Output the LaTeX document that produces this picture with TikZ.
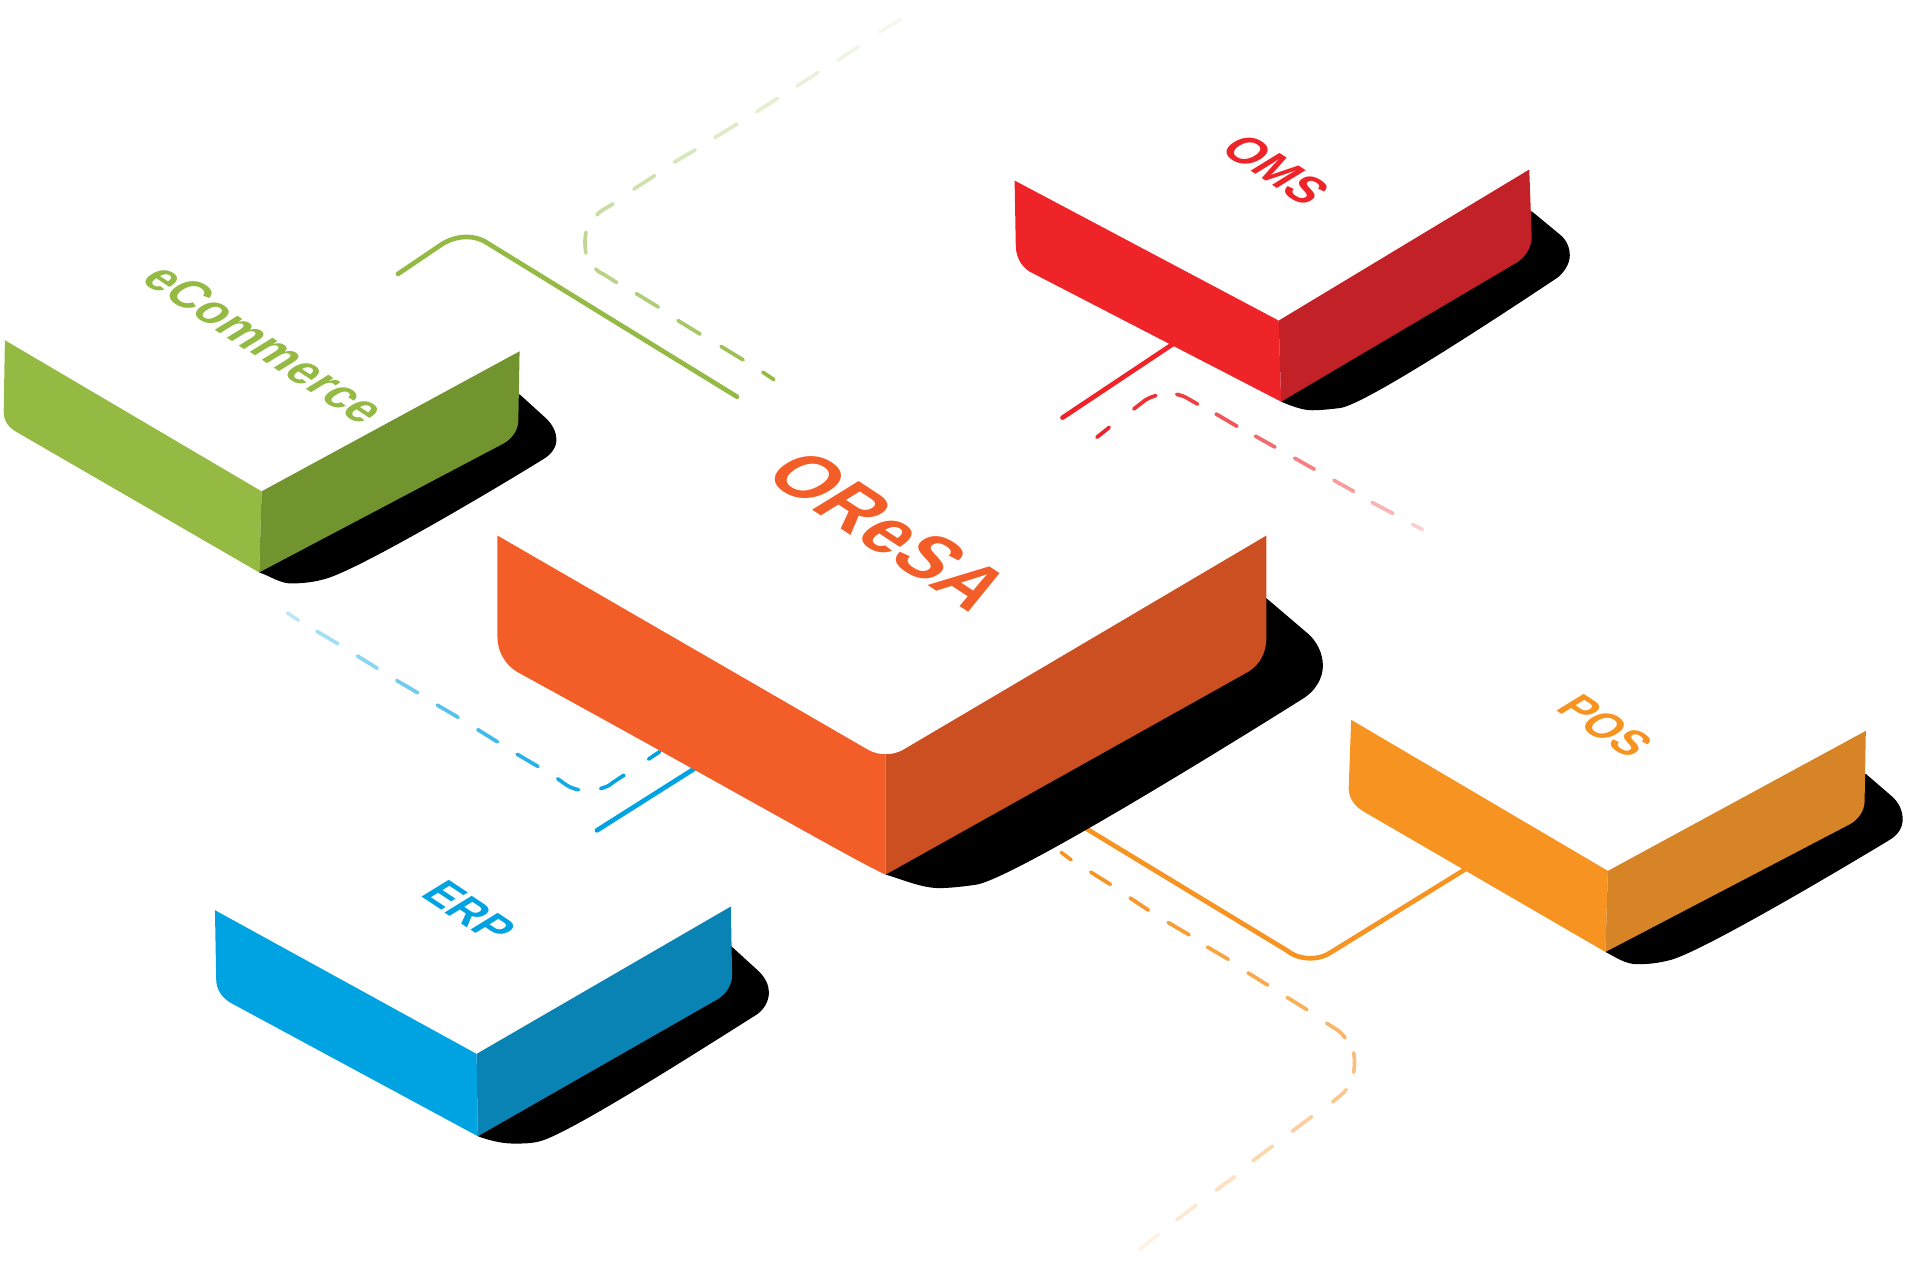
\documentclass[tikz,border=0pt]{standalone}
\usepackage{fontspec}
\newfontfamily\labfont{Liberation Sans}
\definecolor{gA}{HTML}{94BA44}\definecolor{gB}{HTML}{72942E}
\definecolor{oA}{HTML}{F35D27}\definecolor{oB}{HTML}{CC4F22}
\definecolor{rA}{HTML}{EE2429}\definecolor{rB}{HTML}{C12127}
\definecolor{yA}{HTML}{F79421}\definecolor{yB}{HTML}{D78426}
\definecolor{bA}{HTML}{00A3E2}\definecolor{bB}{HTML}{0983B4}
\tikzset{
 solidline/.style={line width=3.8pt,line cap=round},
 dashline/.style={line width=3pt,line cap=round},
 isoframe/.style={cm={.85,-.56,.95,.585,(0,0)}},
 isolabel/.style={transform shape,inner sep=0pt,font=\labfont\bfseries\fontsize{#1}{#1}\selectfont},
}
\begin{document}
\begin{tikzpicture}[x=1pt,y=-1pt]
\useasboundingbox (0,0) rectangle (1568,1037);
% solid connectors
\coordinate (gs) at (324,223); \coordinate (ge) at (600,323);
\draw[solidline,gA] (gs) -- (358,200) .. controls (369,192) and (385,190) .. (397,198) -- (ge);
\coordinate (rs) at (865,340); \coordinate (re) at (955,280);
\draw[solidline,rA] (rs) -- (re);
\coordinate (bs) at (486,676); \coordinate (be) at (565,626);
\draw[solidline,bA] (bs) -- (be);
\coordinate (ys) at (885,675); \coordinate (ye) at (1194,707);
\draw[solidline,yA] (ys) -- (1048,774) .. controls (1058,782) and (1074,782) .. (1084,775) -- (ye);
% dashed connectors: green
\begin{scope}[dashline,gA]
\draw (630,309)--(621,303);
\draw[opacity=.9] (605,293)--(587,282);
\draw[opacity=.82] (570,272)--(552,261);
\draw[opacity=.74] (536,250)--(518,239);
\draw[opacity=.66] (502,230)--(491,223) .. controls (488,222) and (486,220) .. (485,219);
\draw[opacity=.58] (477,206) .. controls (476,200) and (476,195) .. (477,189);
\draw[opacity=.5] (486,175) .. controls (488,172) and (491,171) .. (499,166);
\draw[opacity=.43] (516,154)--(533,143);
\draw[opacity=.36] (549,132)--(566,122);
\draw[opacity=.3] (582,112)--(600,101);
\draw[opacity=.25] (616,91)--(633,80);
\draw[opacity=.2] (649,70)--(666,59);
\draw[opacity=.15] (682,49)--(699,38);
\draw[opacity=.1] (716,26)--(733,16);
\end{scope}
% red
\begin{scope}[dashline,rA]
\draw (893,356)--(903,348);
\draw[opacity=.95] (923,333) -- (932,326) .. controls (935,324) and (938,323) .. (941,322);
\draw[opacity=.88] (958,321) .. controls (962,322) and (965,323) .. (968,325) -- (975,329);
\draw[opacity=.78] (990,337)--(1007,347);
\draw[opacity=.68] (1022,355)--(1038,364);
\draw[opacity=.58] (1054,373)--(1070,382);
\draw[opacity=.46] (1086,391)--(1102,400);
\draw[opacity=.34] (1117,409)--(1134,418);
\draw[opacity=.22] (1150,427)--(1158,431);
\end{scope}
% blue
\begin{scope}[dashline,bA]
\draw (528,618)--(537,612);
\draw[opacity=.98] (508,631) -- (499,637) .. controls (496,640) and (492,641) .. (489,642);
\draw[opacity=.92] (471,643) .. controls (467,642) and (464,641) .. (461,639) -- (454,634);
\draw[opacity=.84] (438,624)--(421,614);
\draw[opacity=.75] (405,604)--(389,594);
\draw[opacity=.66] (373,584)--(356,574);
\draw[opacity=.56] (340,564)--(323,554);
\draw[opacity=.46] (307,544)--(291,534);
\draw[opacity=.36] (275,524)--(258,514);
\draw[opacity=.26] (243,505)--(234,499);
\end{scope}
% orange
\begin{scope}[dashline,yA]
\draw (864,694)--(872,700);
\draw (888,710)--(904,720);
\draw[opacity=.95] (920,731)--(935,741);
\draw[opacity=.9] (951,751)--(968,761);
\draw[opacity=.85] (983,771)--(1000,781);
\draw[opacity=.8] (1016,792)--(1032,802);
\draw[opacity=.74] (1048,812)--(1064,822);
\draw[opacity=.68] (1080,833) -- (1088,838) .. controls (1091,840) and (1093,842) .. (1095,845);
\draw[opacity=.6] (1102,857) .. controls (1103,862) and (1103,868) .. (1102,873);
\draw[opacity=.52] (1096,887) .. controls (1094,890) and (1091,892) .. (1085,897);
\draw[opacity=.44] (1068,909)--(1052,921);
\draw[opacity=.36] (1036,933)--(1020,945);
\draw[opacity=.28] (1005,958)--(990,969);
\draw[opacity=.2] (974,981)--(958,993);
\draw[opacity=.12] (943,1005)--(928,1017);
\end{scope}
% shadows
\fill[black] (423,321)--(445,341) .. controls (450,346) and (453,352) .. (453,358) .. controls (453,364) and (449,370) .. (442,374) .. controls (400,400) and (285,468) .. (262,472) .. controls (255,474) and (245,475) .. (237,475) .. controls (228,475) and (220,469) .. (211,466)--cycle;
\fill[black] (1031,487) -- (1065,516) .. controls (1072,522) and (1077,532) .. (1077,542) .. controls (1077,552) and (1071,562) .. (1062,568) .. controls (1000,607) and (830,712) .. (796,720) .. controls (790,721) and (775,723) .. (765,723) .. controls (750,723) and (735,716) .. (721,712) -- cycle;
\fill[black] (1247,172)--(1270,191) .. controls (1275,195) and (1278,201) .. (1278,208) .. controls (1278,215) and (1273,222) .. (1268,226) .. controls (1220,258) and (1115,327) .. (1092,332) .. controls (1085,333) and (1075,334) .. (1068,334) .. controls (1060,334) and (1050,330) .. (1043,327)--cycle;
\fill[black] (1519,630)--(1541,649) .. controls (1546,654) and (1549,660) .. (1549,667) .. controls (1549,674) and (1545,680) .. (1538,684) .. controls (1495,710) and (1380,778) .. (1358,782) .. controls (1350,784) and (1342,785) .. (1333,785) .. controls (1323,785) and (1315,779) .. (1307,775)--cycle;
\fill[black] (595,770)--(618,791) .. controls (623,796) and (626,802) .. (626,808) .. controls (626,815) and (622,822) .. (616,826) .. controls (570,855) and (465,922) .. (440,929) .. controls (433,931) and (425,931) .. (418,931) .. controls (408,931) and (397,928) .. (389,925)--cycle;
% eCommerce box
\fill[gA] (4,277)--(213,400)--(211,466)--(14,352) .. controls (7,348) and (3,343) .. (3,335)--cycle;
\fill[gB] (213,400)--(423,286)--(422,342) .. controls (422,350) and (417,357) .. (410,361)--(211,466)--cycle;
% OReSA box
\fill[oA] (405,436) -- (706,610) .. controls (712,613.5) and (717,614) .. (721,614) -- (721,712) .. controls (700,703) and (600,645) .. (421,547) .. controls (411,541) and (405,530) .. (405,519) -- cycle;
\fill[oB] (721,614) .. controls (725,614) and (730,613.5) .. (736,610) -- (1031,436) -- (1031,519) .. controls (1031,531) and (1026,541) .. (1016,547) -- (721,712) -- cycle;
% OMS box
\fill[rA] (826,147)--(1041,261)--(1043,327) -- (838,221) .. controls (832,217) and (828,211) .. (827,202)--cycle;
\fill[rB] (1041,261)--(1245,138)--(1247,193) .. controls (1247,200) and (1243,208) .. (1236,213)--(1043,327)--cycle;
% POS box
\fill[yA] (1100,586)--(1309,709)--(1307,775)--(1109,660) .. controls (1103,656) and (1098,650) .. (1098,642)--cycle;
\fill[yB] (1309,709)--(1519,595)--(1518,652) .. controls (1518,660) and (1513,667) .. (1506,671)--(1307,775)--cycle;
% ERP box
\fill[bA] (175,741)--(388,858)--(389,925)--(187,816) .. controls (181,812) and (176,806) .. (176,797)--cycle;
\fill[bB] (388,858)--(595,738)--(596,794) .. controls (596,802) and (591,809) .. (585,813)--(389,925)--cycle;
% labels
\begin{scope}[shift={(216,280)},isoframe]
\node[isolabel=37,gA] (ecom) at (0,0) {eCommerce};
\end{scope}
\begin{scope}[shift={(724,432)},isoframe]
\node[isolabel=58,oA] (oresa) at (0,0) {OReSA};
\end{scope}
\begin{scope}[shift={(1039,138)},isoframe]
\node[isolabel=36,rA] (oms) at (0,0) {OMS};
\end{scope}
\begin{scope}[shift={(1307,591)},isoframe]
\node[isolabel=34,yA] (pos) at (0,0) {POS};
\end{scope}
\begin{scope}[shift={(382,742)},isoframe]
\node[isolabel=34,bA] (erp) at (0,0) {ERP};
\end{scope}
\end{tikzpicture}
\end{document}
